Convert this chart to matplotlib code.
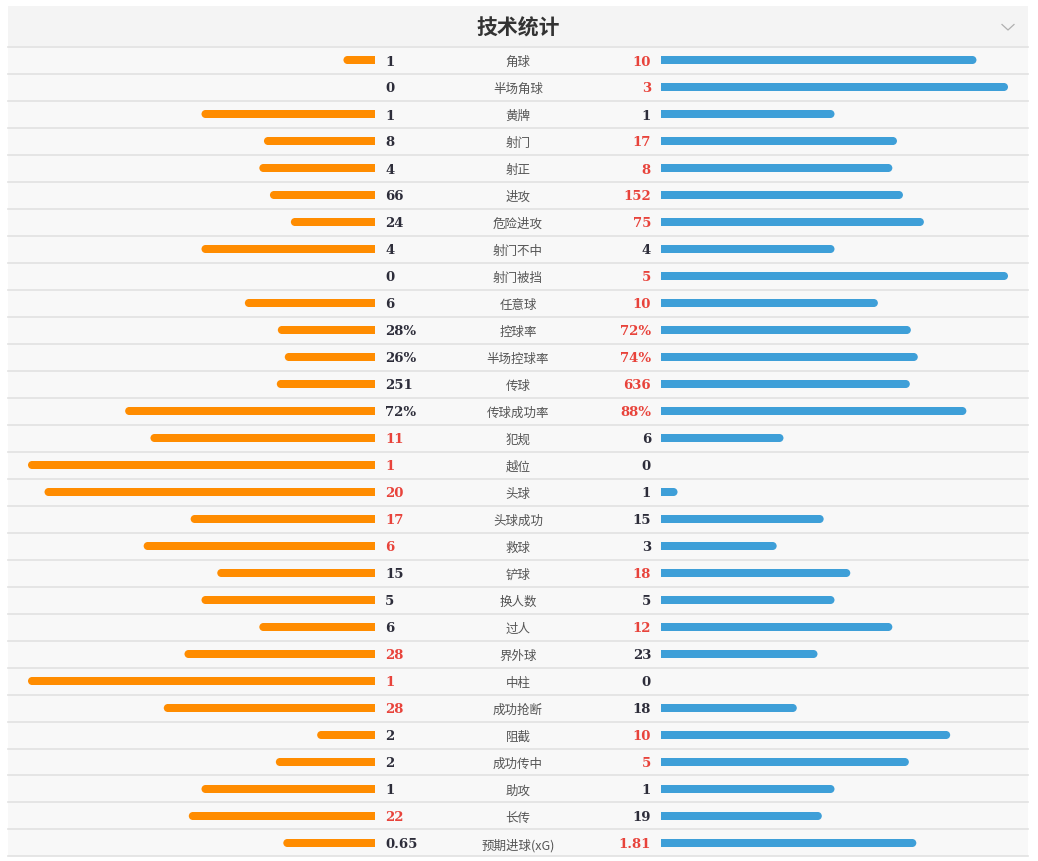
import matplotlib
matplotlib.use('Agg')
import matplotlib.pyplot as plt
from matplotlib.patches import Rectangle, Circle

plt.rcParams['font.family'] = ['Noto Sans CJK SC', 'DejaVu Sans']

title = '技术统计'
labels = ['角球', '半场角球', '黄牌', '射门', '射正', '进攻', '危险进攻', '射门不中', '射门被挡', '任意球',
          '控球率', '半场控球率', '传球', '传球成功率', '犯规', '越位', '头球', '头球成功', '救球', '铲球',
          '换人数', '过人', '界外球', '中柱', '成功抢断', '阻截', '成功传中', '助攻', '长传', '预期进球(xG)']
home = ['1', '0', '1', '8', '4', '66', '24', '4', '0', '6',
        '28%', '26%', '251', '72%', '11', '1', '20', '17', '6', '15',
        '5', '6', '28', '1', '28', '2', '2', '1', '22', '0.65']
away = ['10', '3', '1', '17', '8', '152', '75', '4', '5', '10',
        '72%', '74%', '636', '88%', '6', '0', '1', '15', '3', '18',
        '5', '12', '23', '0', '18', '10', '5', '1', '19', '1.81']

ORANGE = '#ff8c00'
BLUE = '#3e9fd8'
RED = '#e8433b'
DARK = '#2d2d3a'

W, H = 1038, 862
fig = plt.figure(figsize=(W / 100, H / 100), dpi=100)
ax = fig.add_axes([0, 0, 1, 1])
ax.set_xlim(0, W)
ax.set_ylim(H, 0)
ax.axis('off')

# panel geometry (pixels)
px0, px1 = 8, 1028
top, head_h, row_h = 7, 40, 27
mid_l, mid_r, max_len = 375, 661, 347
bar_h = 8

ax.add_patch(Rectangle((px0, top), px1 - px0, head_h, color='#f4f4f4', lw=0))
rows_top = top + head_h
ax.add_patch(Rectangle((px0, rows_top), px1 - px0, row_h * len(labels), color='#f8f8f8', lw=0))
ax.text(518, top + head_h / 2 + 1.5, title, ha='center', va='center',
        fontsize=15, fontweight='bold', color='#333333')
# chevron
ax.plot([1002, 1008, 1014], [25.5, 31, 25.5], color='#b0b0b0', lw=0.9)


def num(s):
    return float(s.rstrip('%'))


for i, (lab, a, b) in enumerate(zip(labels, home, away)):
    y0 = rows_top + i * row_h
    yc = y0 + 14
    ax.plot([px0, px1], [y0 + 0.5, y0 + 0.5], color='#e2e2e2', lw=1.2)
    va, vb = num(a), num(b)
    if '%' in a:
        fa, fb = va / 100, vb / 100
    else:
        tot = va + vb
        fa, fb = (va / tot, vb / tot) if tot else (0, 0)
    la, lb = fa * max_len, fb * max_len
    r = bar_h / 2
    if la > 0:
        ax.barh(yc, la - r, left=mid_l - la + r, height=bar_h, color=ORANGE, lw=0, snap=False)
        ax.add_patch(Circle((mid_l - la + r, yc), r, color=ORANGE, lw=0))
    if lb > 0:
        ax.barh(yc, lb - r, left=mid_r, height=bar_h, color=BLUE, lw=0, snap=False)
        ax.add_patch(Circle((mid_r + lb - r, yc), r, color=BLUE, lw=0))
    ca = RED if va > vb else DARK
    cb = RED if vb > va else DARK
    ax.text(385, yc + 1, a, ha='left', va='center', fontsize=9.5, fontweight='bold',
            color=ca, family='DejaVu Serif')
    ax.text(651, yc + 1, b, ha='right', va='center', fontsize=9.5, fontweight='bold',
            color=cb, family='DejaVu Serif')
    ax.text(518, yc + 1.5, lab, ha='center', va='center', fontsize=9, color='#555555')

y_end = rows_top + row_h * len(labels)
ax.plot([px0, px1], [y_end + 0.5, y_end + 0.5], color='#e2e2e2', lw=1.2)

fig.savefig('out.png', dpi=100)
